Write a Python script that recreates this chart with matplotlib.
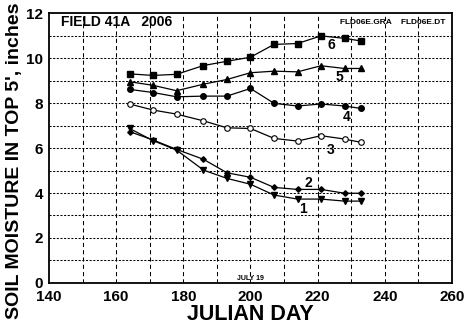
import matplotlib
matplotlib.use("Agg")
import matplotlib.pyplot as plt

days = [164, 171, 178, 186, 193, 200, 207, 214, 221, 228, 233]
s6 = [9.30, 9.23, 9.28, 9.67, 9.86, 10.04, 10.61, 10.65, 10.99, 10.88, 10.76]
s5 = [8.95, 8.79, 8.55, 8.84, 9.05, 9.35, 9.42, 9.39, 9.66, 9.54, 9.54]
s4 = [8.61, 8.47, 8.28, 8.31, 8.31, 8.65, 7.99, 7.87, 7.96, 7.87, 7.76]
s3 = [7.96, 7.69, 7.51, 7.21, 6.90, 6.87, 6.43, 6.31, 6.55, 6.40, 6.25]
s2 = [6.73, 6.36, 5.94, 5.50, 4.90, 4.70, 4.25, 4.16, 4.16, 3.99, 3.99]
s1 = [6.87, 6.33, 5.91, 5.02, 4.65, 4.39, 3.91, 3.73, 3.73, 3.64, 3.64]
labels = ["6", "5", "4", "3", "2", "1"]
label_x = [224.1, 226.6, 228.6, 223.8, 217.2, 215.7]
label_y = [10.58, 9.17, 7.39, 5.91, 4.46, 3.28]
xticks = [140, 160, 180, 200, 220, 240, 260]
yticks = [0, 2, 4, 6, 8, 10, 12]

plt.rcParams['font.family'] = ['Liberation Sans', 'DejaVu Sans']
plt.rcParams['font.weight'] = 'bold'

fig = plt.figure(figsize=(4.66, 3.29), dpi=100)
ax = fig.add_axes([0.105, 0.140, 0.865, 0.820])

for v in range(150, 260, 10):
    ax.axvline(v, color='black', lw=0.75, ls=(0, (4, 3)), zorder=0)
for v in range(1, 12):
    ax.axhline(v, color='black', lw=0.75, ls=(0, (2, 1.5)), zorder=0)

kw = dict(color='black', lw=0.9)
ax.plot(days, s6, marker='s', ms=4, **kw)
ax.plot(days, s5, marker='^', ms=4.5, **kw)
ax.plot(days, s4, marker='o', ms=4, **kw)
ax.plot(days, s3, marker='o', ms=4, mfc='white', mec='black', mew=0.8, **kw)
ax.plot(days, s2, marker='D', ms=2.8, **kw)
ax.plot(days, s1, marker='v', ms=4.5, **kw)

for t, x, y in zip(labels, label_x, label_y):
    ax.text(x, y, t, ha='center', va='center', fontsize=10, fontweight='bold')

ax.text(143.5, 11.6, "FIELD 41A   2006", fontsize=10, fontweight='bold', va='center', ha='left')
ax.text(258, 11.6, "FLD06E.GRA    FLD06E.DT", fontsize=6, fontweight='bold', va='center', ha='right')
ax.text(200, 0.2, "JULY 19", fontsize=5, fontweight='bold', va='center', ha='center')

ax.set_xlim(140, 260)
ax.set_ylim(0, 12)
ax.set_xticks(xticks)
ax.set_yticks(yticks)
ax.tick_params(length=0, labelsize=11)
ax.tick_params(axis='y', pad=4)
ax.tick_params(axis='x', pad=5)
for lab in ax.get_xticklabels() + ax.get_yticklabels():
    lab.set_fontweight('bold')
for sp in ax.spines.values():
    sp.set_linewidth(1.3)
ax.set_xlabel("JULIAN DAY", fontsize=15.5, fontweight='bold', labelpad=0)
ax.set_ylabel("SOIL MOISTURE IN TOP 5', inches", fontsize=14, fontweight='bold')
ax.yaxis.set_label_coords(-0.0645, 0.452)

fig.savefig("out.png", dpi=100)
